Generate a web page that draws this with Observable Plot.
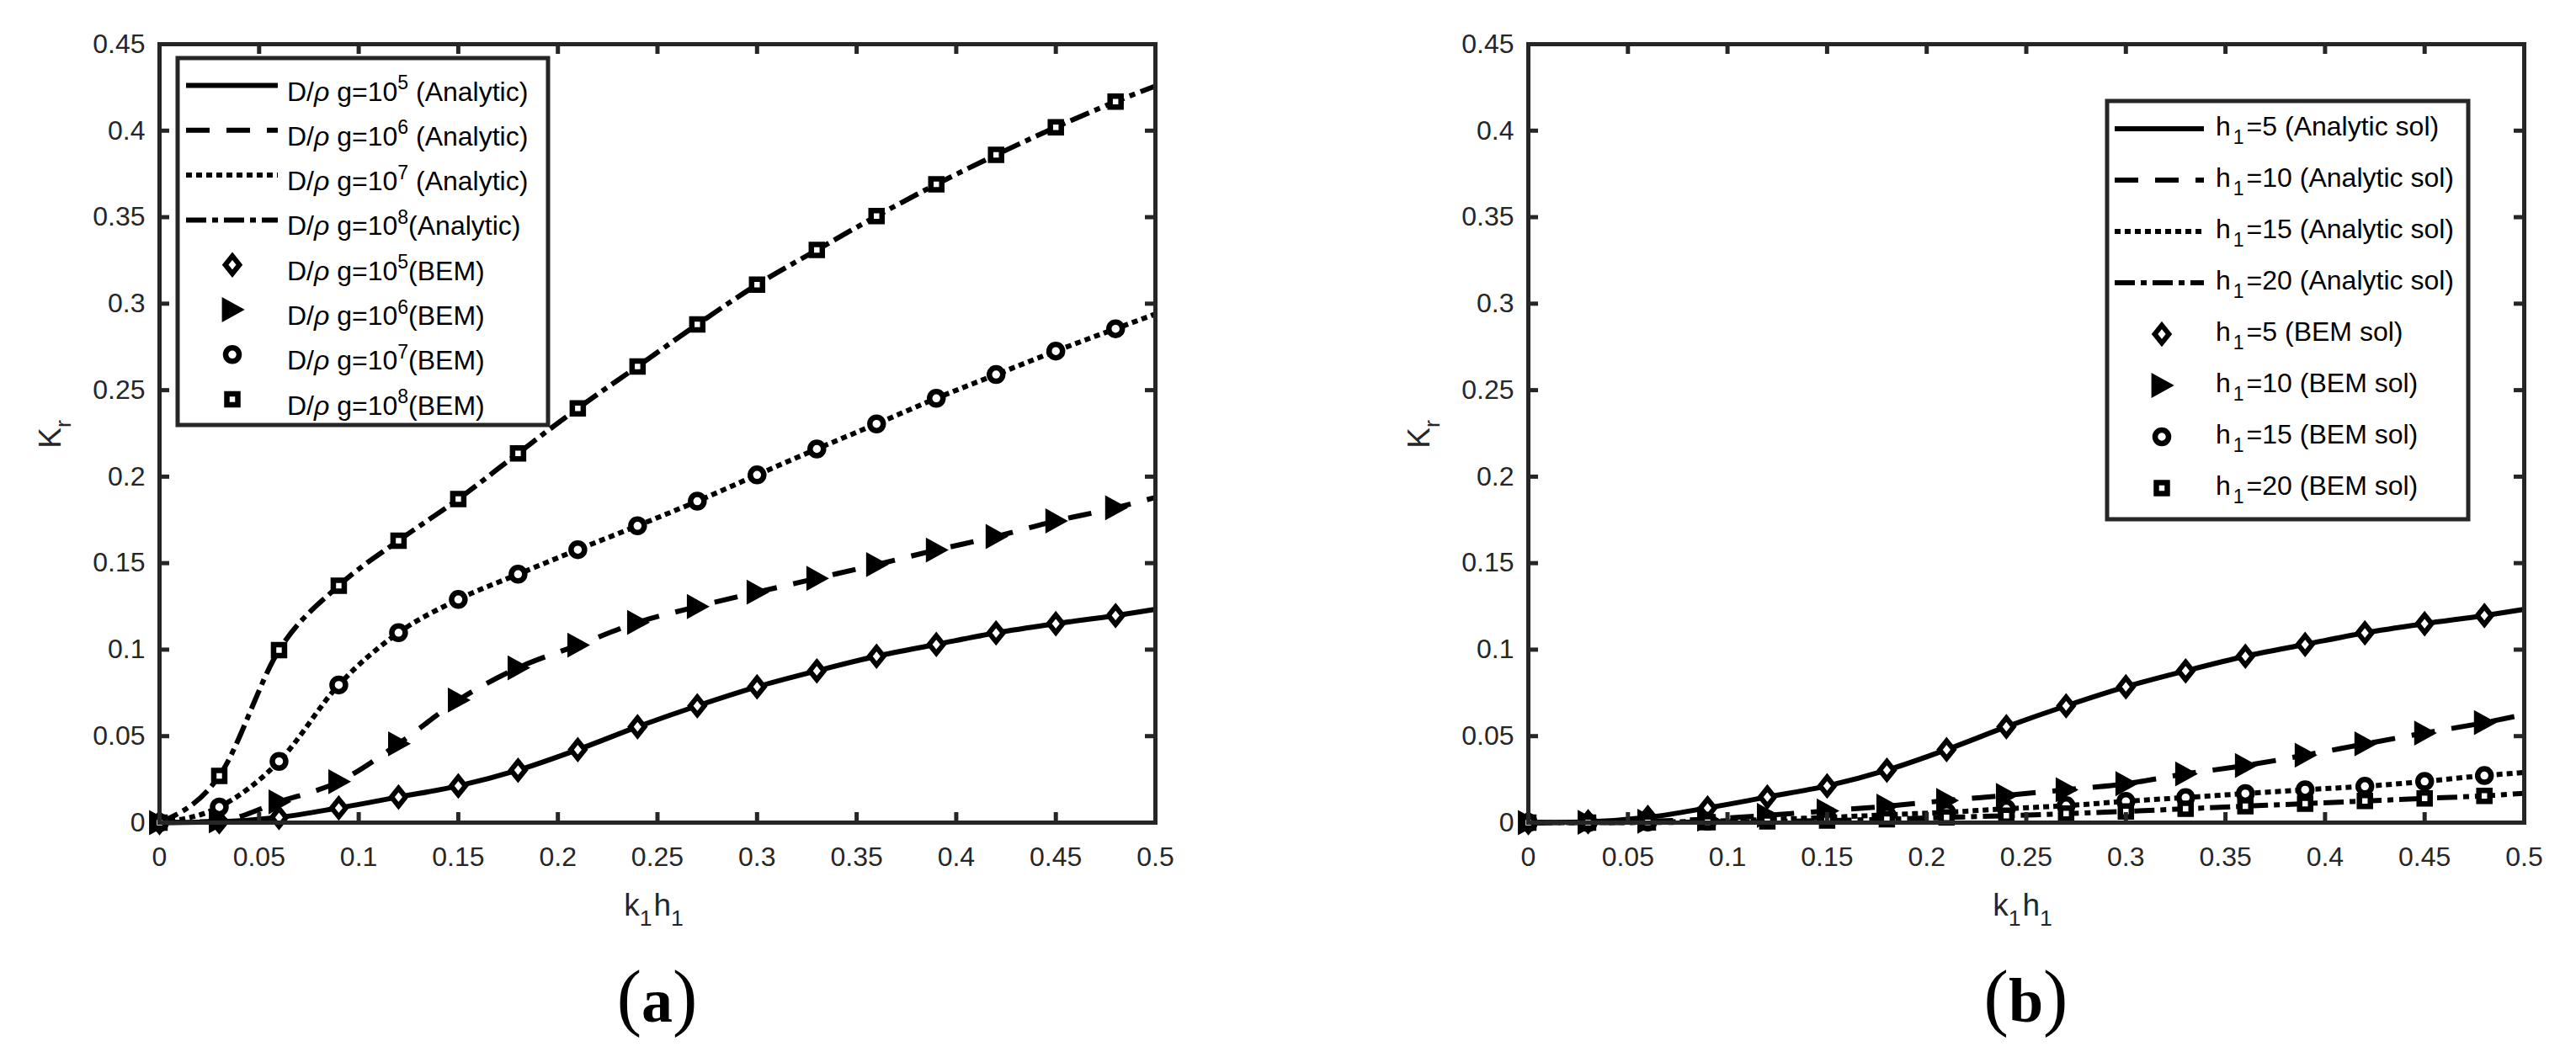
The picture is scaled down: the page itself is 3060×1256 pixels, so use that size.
<!DOCTYPE html>
<html>
<head>
<meta charset="utf-8">
<script src="https://cdn.jsdelivr.net/npm/d3@7"></script>
<script src="https://cdn.jsdelivr.net/npm/@observablehq/plot@0.6"></script>
<style>
html, body { margin: 0; padding: 0; background: #fff; }
#fig { position: relative; width: 3060px; height: 1256px; overflow: hidden; background: #fff; }
.panel { position: absolute; top: 0; width: 1530px; height: 1256px; }
text { white-space: pre; }
</style>
</head>
<body>
<div id="fig"></div>
<script>
// ---------- shared axes ----------
const kh = [0, 0.03, 0.06, 0.09, 0.12, 0.15, 0.18, 0.21, 0.24, 0.27, 0.30, 0.33, 0.36, 0.39, 0.42, 0.45, 0.48];
const khEnd = 0.5;
const xTicks = [0, 0.05, 0.1, 0.15, 0.2, 0.25, 0.3, 0.35, 0.4, 0.45, 0.5];
const xTickLabels = ["0", "0.05", "0.1", "0.15", "0.2", "0.25", "0.3", "0.35", "0.4", "0.45", "0.5"];
const yTicks = [0, 0.05, 0.1, 0.15, 0.2, 0.25, 0.3, 0.35, 0.4, 0.45];
const yTickLabels = ["0", "0.05", "0.1", "0.15", "0.2", "0.25", "0.3", "0.35", "0.4", "0.45"];

// ---------- panel (a): K_r for D/(rho g) = 1e5..1e8 (values at kh, then at 0.5) ----------
const krD5 = [0, 0.0005, 0.003, 0.0085, 0.0148, 0.0212, 0.0303, 0.0422, 0.0554, 0.0675, 0.0785, 0.0877, 0.0962, 0.1030, 0.1097, 0.1150, 0.1197, 0.1233];
const krD6 = [0, 0.001, 0.012, 0.0237, 0.0456, 0.0708, 0.0895, 0.1026, 0.1157, 0.1249, 0.1332, 0.1412, 0.1492, 0.1576, 0.1654, 0.1744, 0.1820, 0.1880];
const krD7 = [0, 0.009, 0.0354, 0.0796, 0.1098, 0.1290, 0.1436, 0.1578, 0.1716, 0.1858, 0.2010, 0.2160, 0.2305, 0.2453, 0.2590, 0.2726, 0.2855, 0.2940];
const krD8 = [0, 0.027, 0.0997, 0.1370, 0.1630, 0.1870, 0.2135, 0.2395, 0.2637, 0.2880, 0.3110, 0.3310, 0.3506, 0.3690, 0.3860, 0.4020, 0.4168, 0.4258];
const expA = ["5", "6", "7", "8"];

// ---------- panel (b): K_r for h1 = 5, 10, 15, 20 ----------
const krH5 = [0, 0.0005, 0.003, 0.0085, 0.0148, 0.0212, 0.0303, 0.0422, 0.0554, 0.0675, 0.0785, 0.0877, 0.0962, 0.1030, 0.1097, 0.1150, 0.1197, 0.1233];
const krH10 = [0, 0.0002, 0.0008, 0.002, 0.0042, 0.0068, 0.0095, 0.0128, 0.0158, 0.0190, 0.0225, 0.0282, 0.0330, 0.0390, 0.0455, 0.0518, 0.0578, 0.0625];
const krH15 = [0, 0, 0.0003, 0.0008, 0.0018, 0.0030, 0.0045, 0.0060, 0.0080, 0.0098, 0.0123, 0.0145, 0.0168, 0.0190, 0.0210, 0.0238, 0.0272, 0.0290];
const krH20 = [0, 0, 0.0001, 0.0003, 0.0007, 0.0012, 0.0020, 0.0030, 0.0040, 0.0052, 0.0065, 0.0080, 0.0095, 0.0110, 0.0125, 0.0140, 0.0155, 0.0170];
const hB = ["5", "10", "15", "20"];

// ---------- marker shapes ----------
const symDiamond = { draw(c, s) { const r = Math.sqrt(s / Math.PI), w = r * 0.8; c.moveTo(0, -r); c.lineTo(w, 0); c.lineTo(0, r); c.lineTo(-w, 0); c.closePath(); } };
const symTri = { draw(c, s) { const r = Math.sqrt(s / Math.PI); c.moveTo(r * 1.05, 0); c.lineTo(-r * 0.95, -r * 1.1); c.lineTo(-r * 0.95, r * 1.1); c.closePath(); } };
const symCircle = { draw(c, s) { const r = Math.sqrt(s / Math.PI); c.moveTo(r, 0); c.arc(0, 0, r, 0, 2 * Math.PI); c.closePath(); } };
const symSquare = { draw(c, s) { const r = Math.sqrt(s / Math.PI); c.moveTo(-r, -r); c.lineTo(r, -r); c.lineTo(r, r); c.lineTo(-r, r); c.closePath(); } };

const styles = [
  { dash: null, symbol: symDiamond, r: 10.5, fill: "#fff", sw: 6 },
  { dash: "28,20", symbol: symTri, r: 12, fill: "#000", sw: 2 },
  { dash: "7,5", symbol: symCircle, r: 8, fill: "#fff", sw: 6.5 },
  { dash: "24,7,7,7", symbol: symSquare, r: 6.5, fill: "#fff", sw: 6.5 }
];

const AX = "#262626";
const LW = 6;
const FONT = "'Liberation Sans', Arial, Helvetica, sans-serif";
const SERIF = "'Liberation Serif', 'Times New Roman', serif";

function richText(sel, x, y, parts, size, anchor) {
  const t = sel.append("text").attr("x", x).attr("y", y).attr("font-size", size)
    .attr("text-anchor", anchor || "start").attr("fill", "#000");
  let shift = 0;
  for (const p of parts) {
    const ts = t.append("tspan").text(p.t);
    const target = p.sup ? -size * 0.42 : p.sub ? size * 0.32 : 0;
    if (target !== shift) { ts.attr("dy", target - shift); shift = target; }
    if (p.sup || p.sub) ts.attr("font-size", size * 0.72);
    if (p.italic) ts.attr("font-style", "italic");
    if (p.bold) ts.attr("font-weight", "bold");
    if (p.size) ts.attr("font-size", p.size);
    if (p.dx) ts.attr("dx", p.dx);
  }
  return t;
}

function drawPanel(p) {
  const W = 1530, H = 1256, ox = p.ox;
  const left = p.x0 - ox, right = p.x1 - ox, top = 52, bottom = 977;
  const fw = right - left, fh = bottom - top;
  const marks = [];
  p.series.forEach((vals, k) => {
    const st = styles[k];
    const data = [...kh, khEnd].map((x, i) => ({ x, y: vals[i] }));
    marks.push(Plot.line(data, { x: "x", y: "y", curve: "monotone-x", stroke: "#000", strokeWidth: LW,
      strokeDasharray: st.dash, strokeLinecap: "butt", strokeLinejoin: "round" }));
  });
  p.series.forEach((vals, k) => {
    const st = styles[k];
    const data = kh.map((x, i) => ({ x, y: vals[i] }));
    marks.push(Plot.dot(data, { x: "x", y: "y", symbol: st.symbol, r: st.r, fill: st.fill, stroke: "#000",
      strokeWidth: st.sw, strokeLinejoin: "miter" }));
  });
  marks.push(Plot.tickX(xTicks, { x: d => d, stroke: AX, strokeWidth: 5, insetTop: fh - 12 }));
  marks.push(Plot.tickX(xTicks, { x: d => d, stroke: AX, strokeWidth: 5, insetBottom: fh - 12 }));
  marks.push(Plot.tickY(yTicks, { y: d => d, stroke: AX, strokeWidth: 5, insetRight: fw - 12 }));
  marks.push(Plot.tickY(yTicks, { y: d => d, stroke: AX, strokeWidth: 5, insetLeft: fw - 12 }));
  marks.push(Plot.frame({ stroke: AX, strokeWidth: 5 }));
  marks.push(Plot.axisX(xTicks, { tickSize: 0, tickPadding: 29, label: null, fill: AX,
    tickFormat: d => xTickLabels[xTicks.indexOf(d)] }));
  marks.push(Plot.axisY(yTicks, { tickSize: 0, tickPadding: 17, label: null, fill: AX,
    tickFormat: d => yTickLabels[yTicks.indexOf(d)] }));

  const svgEl = Plot.plot({
    width: W, height: H,
    marginLeft: left, marginRight: W - right, marginTop: top, marginBottom: H - bottom,
    x: { domain: [0, 0.5] }, y: { domain: [0, 0.45] },
    style: { fontFamily: FONT, fontSize: "32px", color: AX, background: "#fff", overflow: "visible" },
    marks
  });
  const div = document.createElement("div");
  div.className = "panel";
  div.style.left = ox + "px";
  div.appendChild(svgEl);
  document.getElementById("fig").appendChild(div);

  const svg = d3.select(svgEl);
  const cx = (left + right) / 2;
  // axis labels
  richText(svg, cx - 4, 1088, [{ t: "k" }, { t: "1", sub: true }, { t: "h", dx: 2 }, { t: "1", sub: true }], 37, "middle").attr("fill", AX);
  const yl = svg.append("g").attr("transform", `translate(${left - 117},516) rotate(-90)`);
  richText(yl, 0, 0, [{ t: "K" }, { t: "r", sub: true }], 37, "middle").attr("fill", AX);
  // subplot label
  richText(svg, cx, 1214, [{ t: "(", size: 88 }, { t: p.tag, bold: true }, { t: ")", size: 88 }], 74, "middle").attr("font-family", SERIF);

  // legend
  const L = p.legend;
  const g = svg.append("g").attr("font-family", FONT);
  g.append("rect").attr("x", L.bx0 - ox).attr("y", L.by0).attr("width", L.bx1 - L.bx0).attr("height", L.by1 - L.by0)
    .attr("fill", "#fff").attr("stroke", AX).attr("stroke-width", 5);
  for (let i = 0; i < 8; i++) {
    const y = L.row0 + L.dy * i;
    const st = styles[i % 4];
    if (i < 4) {
      g.append("line").attr("x1", L.lx0 - ox).attr("x2", L.lx1 - ox).attr("y1", y).attr("y2", y)
        .attr("stroke", "#000").attr("stroke-width", LW).attr("stroke-dasharray", st.dash);
    } else {
      g.append("path").attr("transform", `translate(${L.mx - ox},${y})`)
        .attr("d", d3.symbol(st.symbol, Math.PI * st.r * st.r)())
        .attr("fill", st.fill).attr("stroke", "#000").attr("stroke-width", st.sw).attr("stroke-linejoin", "miter");
    }
    richText(g, L.tx - ox, y + L.base, L.labels[i], 32);
  }
}

const legendA = [];
for (let i = 0; i < 4; i++) legendA.push([{ t: "D/" }, { t: "ρ", italic: true }, { t: " g=10" }, { t: expA[i], sup: true }, { t: i === 3 ? "(Analytic)" : " (Analytic)" }]);
for (let i = 0; i < 4; i++) legendA.push([{ t: "D/" }, { t: "ρ", italic: true }, { t: " g=10" }, { t: expA[i], sup: true }, { t: "(BEM)" }]);
const legendB = [];
for (let i = 0; i < 4; i++) legendB.push([{ t: "h" }, { t: "1", sub: true, dx: 3 }, { t: "=" + hB[i] + " (Analytic sol)", dx: 3 }]);
for (let i = 0; i < 4; i++) legendB.push([{ t: "h" }, { t: "1", sub: true, dx: 3 }, { t: "=" + hB[i] + " (BEM sol)", dx: 3 }]);

drawPanel({
  ox: 0, x0: 189, x1: 1372, tag: "a",
  series: [krD5, krD6, krD7, krD8],
  legend: { bx0: 211, bx1: 651, by0: 69, by1: 505, row0: 101.5, dy: 53.3, lx0: 221, lx1: 330, mx: 276, tx: 341, base: 18, labels: legendA }
});
drawPanel({
  ox: 1530, x0: 1815, x1: 2998, tag: "b",
  series: [krH5, krH10, krH15, krH20],
  legend: { bx0: 2503, bx1: 2932, by0: 120, by1: 617, row0: 153, dy: 61, lx0: 2512, lx1: 2618, mx: 2568, tx: 2632, base: 8, labels: legendB }
});
</script>
</body>
</html>
